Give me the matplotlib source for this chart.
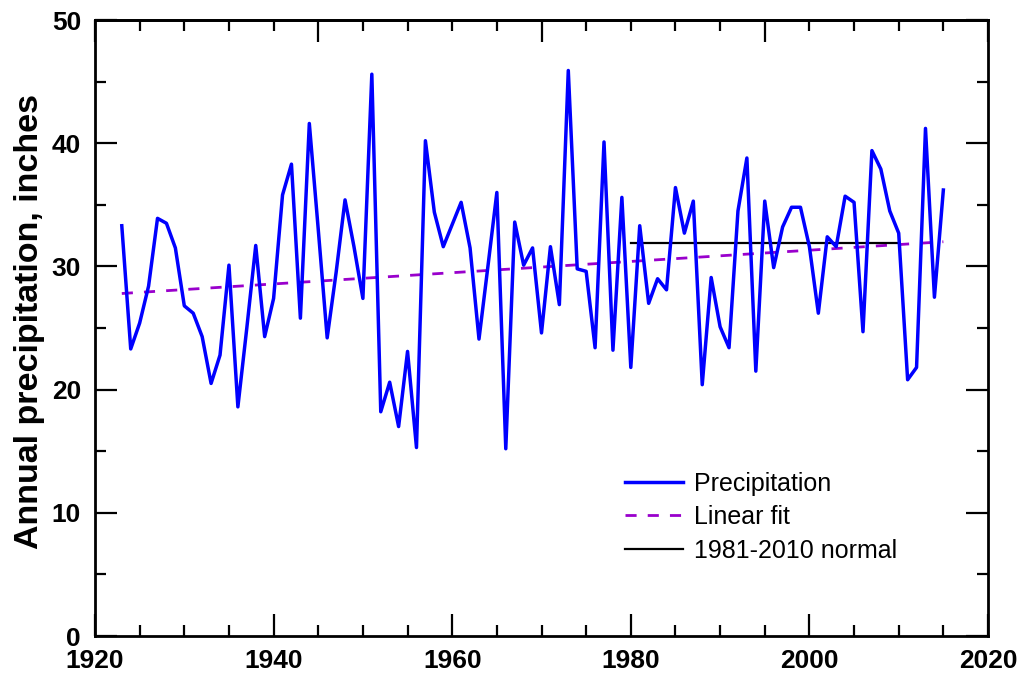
import numpy as np
import matplotlib
matplotlib.use("Agg")
import matplotlib.pyplot as plt
from matplotlib.ticker import MultipleLocator, FixedLocator, NullFormatter

plt.rcParams['font.family'] = ['Liberation Sans', 'DejaVu Sans']

# Annual precipitation totals (inches), 1923-2015
years = list(range(1923, 2016))
precip = [
    33.3, 23.3, 25.4, 28.4, 33.9, 33.5, 31.5, 26.8, 26.2, 24.3,   # 1923-1932
    20.5, 22.8, 30.1, 18.6, 25.0, 31.7, 24.3, 27.4, 35.8, 38.3,   # 1933-1942
    25.8, 41.6, 33.0, 24.2, 29.5, 35.4, 31.6, 27.4, 45.6, 18.2,   # 1943-1952
    20.6, 17.0, 23.1, 15.3, 40.2, 34.4, 31.6, 33.4, 35.2, 31.5,   # 1953-1962
    24.1, 30.0, 36.0, 15.2, 33.6, 30.1, 31.5, 24.6, 31.6, 26.9,   # 1963-1972
    45.9, 29.8, 29.6, 23.4, 40.1, 23.2, 35.6, 21.8, 33.3, 27.0,   # 1973-1982
    29.0, 28.1, 36.4, 32.7, 35.3, 20.4, 29.1, 25.1, 23.4, 34.5,   # 1983-1992
    38.8, 21.5, 35.3, 29.9, 33.2, 34.8, 34.8, 31.6, 26.2, 32.4,   # 1993-2002
    31.6, 35.7, 35.2, 24.7, 39.4, 37.9, 34.5, 32.7, 20.8, 21.8,   # 2003-2012
    41.2, 27.5, 36.2,                                             # 2013-2015
]

# Linear trend end points and the 1981-2010 normal
fit_years = [1923, 2015]
fit_values = [27.8, 32.0]
normal_years = [1980, 2010]
normal_value = 31.9

x_ticks = [1920, 1940, 1960, 1980, 2000, 2020]
y_ticks = [0, 10, 20, 30, 40, 50]
top_major = [1920, 1945, 1970, 1995, 2020]

fig = plt.figure(figsize=(10.23, 6.77), dpi=100)
ax = fig.add_axes([95 / 1023, 1 - 636 / 677, (988 - 95) / 1023, (636 - 20) / 677])

ax.plot(years, precip, color='#0000FF', lw=2.5, label='Precipitation', zorder=3)
ax.plot(fit_years, fit_values, color='#9900CC', lw=2.0, dashes=(4.0, 4.0),
        label='Linear fit', zorder=2)
ax.plot(normal_years, [normal_value, normal_value], color='black', lw=1.6,
        label='1981-2010 normal', zorder=2)

ax.set_xlim(1920, 2020)
ax.set_ylim(0, 50)

ax.xaxis.set_major_locator(FixedLocator(x_ticks))
ax.xaxis.set_minor_locator(MultipleLocator(5))
ax.yaxis.set_major_locator(FixedLocator(y_ticks))
ax.yaxis.set_minor_locator(MultipleLocator(5))

for sp in ax.spines.values():
    sp.set_linewidth(2.0)

ax.tick_params(axis='both', which='major', direction='in', length=16, width=1.6,
               labelsize=19)
ax.tick_params(axis='both', which='minor', direction='in', length=8, width=1.6)
ax.tick_params(axis='x', which='major', pad=9.5)
ax.tick_params(axis='y', which='major', pad=10)
ax.tick_params(axis='y', which='both', right=True)
for lbl in ax.get_xticklabels() + ax.get_yticklabels():
    lbl.set_fontweight('bold')

# Top axis carries its own tick spacing, without labels
top = ax.secondary_xaxis('top')
top.xaxis.set_major_locator(FixedLocator(top_major))
top.xaxis.set_minor_locator(MultipleLocator(5))
top.xaxis.set_major_formatter(NullFormatter())
top.tick_params(which='major', direction='in', length=16, width=1.6)
top.tick_params(which='minor', direction='in', length=8, width=1.6)
top.spines['top'].set_linewidth(2.0)

ax.set_ylabel('Annual precipitation, inches', fontsize=24.5, fontweight='bold')
ax.yaxis.set_label_coords(-0.056, 0.51)

ax.legend(loc='center left', bbox_to_anchor=(0.58, 0.193), frameon=False,
          fontsize=18, handlelength=2.32, handletextpad=0.43, labelspacing=0.38,
          borderpad=0)

fig.savefig('out.png', dpi=100)
